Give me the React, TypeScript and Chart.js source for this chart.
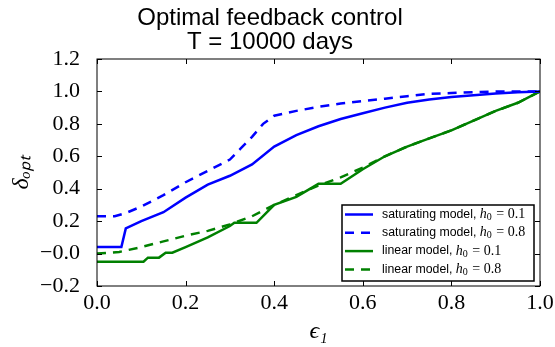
import React, { useEffect, useRef } from 'react';
import { Chart, registerables } from 'chart.js';

Chart.register(...registerables);

// ---- text ----
const titleLines = ['Optimal feedback control', 'T = 10000 days'];
const xAxisLabel = 'ϵ₁';
const yAxisLabel = 'δₒₚₜ';

// ---- axes ----
const xMin = 0;
const xMax = 1.0;
const xStep = 0.2;
const yMin = -0.2;
const yMax = 1.2;
const yStep = 0.2;

// ---- series meta ----
const seriesNames = ['saturating model', 'saturating model', 'linear model', 'linear model'];
const seriesH0 = ['0.1', '0.8', '0.1', '0.8'];

// ---- data: saturating model, h0 = 0.1 ----
const satLowX = [0, 0.055, 0.065, 0.1, 0.15, 0.2, 0.25, 0.3, 0.35, 0.4, 0.45, 0.5, 0.55, 0.6, 0.65, 0.7, 0.75, 0.8, 0.85, 0.9, 0.95, 1.0];
const satLowY = [0.04, 0.04, 0.155, 0.2, 0.255, 0.345, 0.425, 0.48, 0.55, 0.66, 0.73, 0.785, 0.83, 0.865, 0.9, 0.93, 0.95, 0.965, 0.977, 0.987, 0.995, 1.0];

// ---- data: saturating model, h0 = 0.8 ----
const satHighX = [0, 0.04, 0.065, 0.1, 0.15, 0.2, 0.25, 0.3, 0.325, 0.35, 0.375, 0.4, 0.45, 0.5, 0.55, 0.6, 0.65, 0.7, 0.75, 0.8, 0.85, 0.9, 1.0];
const satHighY = [0.23, 0.23, 0.25, 0.29, 0.36, 0.44, 0.51, 0.58, 0.65, 0.72, 0.8, 0.85, 0.88, 0.905, 0.925, 0.94, 0.955, 0.97, 0.985, 0.99, 0.995, 1.0, 1.0];

// ---- data: linear model, h0 = 0.1 ----
const linLowX = [0, 0.105, 0.115, 0.14, 0.155, 0.17, 0.2, 0.25, 0.3, 0.31, 0.36, 0.4, 0.45, 0.5, 0.55, 0.6, 0.65, 0.7, 0.75, 0.8, 0.85, 0.9, 0.95, 1.0];
const linLowY = [-0.05, -0.05, -0.025, -0.025, 0.005, 0.005, 0.04, 0.1, 0.17, 0.19, 0.19, 0.3, 0.35, 0.43, 0.43, 0.52, 0.6, 0.66, 0.71, 0.76, 0.82, 0.88, 0.93, 1.0];

// ---- data: linear model, h0 = 0.8 ----
const linHighX = [0, 0.05, 0.1, 0.15, 0.2, 0.25, 0.3, 0.35, 0.4, 0.45, 0.5, 0.55, 0.6, 0.65, 0.7, 0.75, 0.8, 0.85, 0.9, 0.95, 1.0];
const linHighY = [0.0, 0.01, 0.04, 0.075, 0.11, 0.14, 0.18, 0.23, 0.3, 0.36, 0.42, 0.47, 0.53, 0.6, 0.66, 0.71, 0.76, 0.82, 0.88, 0.93, 1.0];

// ---- styles ----
const BLUE = '#0000ff';
const GREEN = '#008000';
const DASH = [9, 7];
const SANS = '"Liberation Sans", Arial, sans-serif';
const SERIF = '"Liberation Serif", "Times New Roman", serif';

const pairs = (xs: number[], ys: number[]) => xs.map((x, i) => ({ x, y: ys[i] }));

const framePlugin = {
  id: 'frameTicks',
  afterDatasetsDraw(chart: any) {
    const { ctx, chartArea: a, scales } = chart;
    ctx.save();
    ctx.strokeStyle = '#000';
    ctx.lineWidth = 1;
    ctx.setLineDash([]);
    ctx.strokeRect(a.left, a.top, a.right - a.left, a.bottom - a.top);
    const tl = 5;
    ctx.beginPath();
    scales.x.ticks.forEach((t: any) => {
      const px = Math.round(scales.x.getPixelForValue(t.value)) + 0.5;
      ctx.moveTo(px, a.bottom);
      ctx.lineTo(px, a.bottom - tl);
      ctx.moveTo(px, a.top);
      ctx.lineTo(px, a.top + tl);
    });
    scales.y.ticks.forEach((t: any) => {
      const py = Math.round(scales.y.getPixelForValue(t.value)) + 0.5;
      ctx.moveTo(a.left, py);
      ctx.lineTo(a.left + tl, py);
      ctx.moveTo(a.right, py);
      ctx.lineTo(a.right - tl, py);
    });
    ctx.stroke();
    ctx.restore();
  },
};

const legendPlugin = {
  id: 'boxLegend',
  afterDraw(chart: any) {
    const { ctx, chartArea: a } = chart;
    const w = 192;
    const h = 76;
    const x0 = a.right - 6 - w;
    const y0 = a.bottom - 5 - h;
    ctx.save();
    ctx.fillStyle = '#fff';
    ctx.fillRect(x0, y0, w, h);
    ctx.strokeStyle = '#000';
    ctx.lineWidth = 1.5;
    ctx.setLineDash([]);
    ctx.strokeRect(x0, y0, w, h);
    chart.data.datasets.forEach((ds: any, i: number) => {
      const cy = y0 + 9.5 + i * 18.3;
      ctx.beginPath();
      ctx.setLineDash(ds.borderDash || []);
      ctx.strokeStyle = ds.borderColor;
      ctx.lineWidth = ds.borderWidth;
      ctx.moveTo(x0 + 3, cy);
      ctx.lineTo(x0 + 31, cy);
      ctx.stroke();
      ctx.setLineDash([]);
      ctx.fillStyle = '#000';
      ctx.textBaseline = 'middle';
      ctx.textAlign = 'left';
      let tx = x0 + 40;
      const prefix = seriesNames[i] + ', ';
      ctx.font = `12.3px ${SANS}`;
      ctx.fillText(prefix, tx, cy);
      tx += ctx.measureText(prefix).width;
      ctx.font = `italic 14px ${SERIF}`;
      ctx.fillText('h', tx, cy);
      tx += ctx.measureText('h').width;
      ctx.font = `10px ${SERIF}`;
      ctx.fillText('0', tx, cy + 3);
      tx += ctx.measureText('0').width;
      ctx.font = `14px ${SERIF}`;
      ctx.fillText(' = ' + seriesH0[i], tx + 1, cy);
    });
    ctx.restore();
  },
};

export default function App() {
  const canvasRef = useRef<HTMLCanvasElement | null>(null);

  useEffect(() => {
    document.body.style.margin = '0';
    const canvas = canvasRef.current;
    if (!canvas) return;
    const mk = (i: number, xs: number[], ys: number[], color: string, dashed: boolean) => ({
      label: `${seriesNames[i]}, h₀ = ${seriesH0[i]}`,
      data: pairs(xs, ys),
      borderColor: color,
      backgroundColor: color,
      borderWidth: 2.5,
      borderDash: dashed ? DASH : [],
      pointRadius: 0,
      tension: 0,
      fill: false,
    });
    const chart = new Chart(canvas, {
      type: 'line',
      data: {
        datasets: [
          mk(0, satLowX, satLowY, BLUE, false),
          mk(1, satHighX, satHighY, BLUE, true),
          mk(2, linLowX, linLowY, GREEN, false),
          mk(3, linHighX, linHighY, GREEN, true),
        ] as any,
      },
      options: {
        animation: false,
        responsive: false,
        devicePixelRatio: 1,
        layout: { padding: { left: 0, right: 15, top: 0, bottom: 0 } },
        plugins: {
          legend: { display: false },
          tooltip: { enabled: false },
          title: {
            display: true,
            text: titleLines,
            color: '#000',
            font: { family: SANS, size: 24, weight: 'normal', lineHeight: 1 },
            padding: { top: 6, bottom: 5 },
          },
        },
        scales: {
          x: {
            type: 'linear',
            min: xMin,
            max: xMax,
            grid: { display: false },
            border: { display: false },
            ticks: {
              stepSize: xStep,
              padding: -2,
              color: '#000',
              font: { family: SERIF, size: 22, lineHeight: 1 },
              maxRotation: 0,
              callback: (v: any) => Number(v).toFixed(1),
            },
            title: {
              display: true,
              text: xAxisLabel,
              color: '#000',
              font: { family: SERIF, size: 24, style: 'italic', lineHeight: 1 },
              padding: { top: 0, bottom: 3 },
            },
            afterFit: (s: any) => { s.height = 61; },
          },
          y: {
            type: 'linear',
            min: yMin,
            max: yMax,
            grid: { display: false },
            border: { display: false },
            ticks: {
              stepSize: yStep,
              padding: 9,
              color: '#000',
              font: { family: SERIF, size: 22, lineHeight: 1 },
              callback: (v: any) => Number(v).toFixed(1).replace('-', '\u2212'),
            },
            title: {
              display: true,
              text: yAxisLabel,
              color: '#000',
              font: { family: SERIF, size: 24, style: 'italic', lineHeight: 1 },
              padding: { top: 10, bottom: 0 },
            },
            afterFit: (s: any) => { s.width = 97; },
          },
        },
      } as any,
      plugins: [framePlugin, legendPlugin],
    });
    return () => chart.destroy();
  }, []);

  return (
    <div style={{ position: 'absolute', left: 0, top: 0, width: 555, height: 347 }}>
      <canvas ref={canvasRef} width={555} height={347} />
    </div>
  );
}
